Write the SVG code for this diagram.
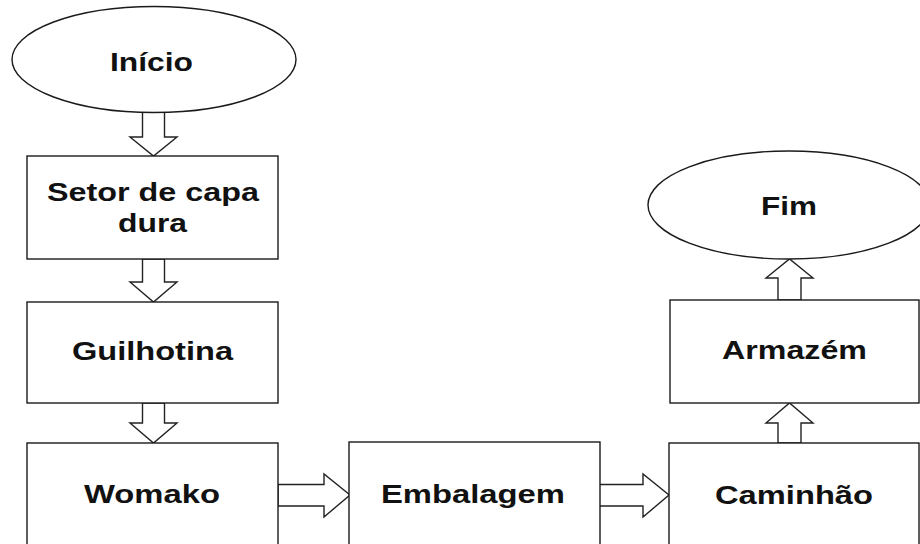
<svg xmlns="http://www.w3.org/2000/svg" width="920" height="544" viewBox="0 0 920 544">
<style>
.n{fill:#fff;stroke:#1a1a1a;stroke-width:1.4}
.a{fill:#fff;stroke:#222;stroke-width:1.4;stroke-linejoin:miter}
.t{font-family:"Liberation Sans",Arial,sans-serif;font-weight:bold;font-size:26px;fill:#111;text-anchor:middle}
</style>
<rect width="920" height="544" fill="#fff"/>
<g id="connectors">
<polygon class="a" points="142.5,110 164.5,110 164.5,137 177,137 153.5,156 130,137 142.5,137"/>
<polygon class="a" points="142.5,259 164.5,259 164.5,282 177,282 153.5,302 130,282 142.5,282"/>
<polygon class="a" points="142.5,403 164.5,403 164.5,423 177,423 153.5,443 130,423 142.5,423"/>
<polygon class="a" points="278,484.5 324,484.5 324,474 350,495 324,517 324,506 278,506"/>
<polygon class="a" points="596,484.5 643,484.5 643,474 669,495 643,517 643,506 596,506"/>
<polygon class="a" points="778,443 778,423 766,423 789.5,403 813,423 801,423 801,443"/>
<polygon class="a" points="778,300 778,278 766,278 789.5,259 813,278 801,278 801,300"/>
</g>
<g id="inicio">
<ellipse class="n" cx="154" cy="59.5" rx="142" ry="53"/>
<text class="t" x="151.5" y="71" textLength="83" lengthAdjust="spacingAndGlyphs">Início</text>
</g>
<g id="setor">
<rect class="n" x="27" y="156" width="251" height="103"/>
<text class="t" x="153" y="201" textLength="212" lengthAdjust="spacingAndGlyphs">Setor de capa</text>
<text class="t" x="152.5" y="232" textLength="69" lengthAdjust="spacingAndGlyphs">dura</text>
</g>
<g id="guilhotina">
<rect class="n" x="27" y="302" width="251" height="101"/>
<text class="t" x="152.5" y="360" textLength="161" lengthAdjust="spacingAndGlyphs">Guilhotina</text>
</g>
<g id="womako">
<rect class="n" x="27" y="443" width="251" height="104"/>
<text class="t" x="152" y="503" textLength="136" lengthAdjust="spacingAndGlyphs">Womako</text>
</g>
<g id="embalagem">
<rect class="n" x="349" y="442" width="251" height="105"/>
<text class="t" x="473" y="503" textLength="184" lengthAdjust="spacingAndGlyphs">Embalagem</text>
</g>
<g id="caminhao">
<rect class="n" x="669" y="443" width="250" height="104"/>
<text class="t" x="794" y="504" textLength="158" lengthAdjust="spacingAndGlyphs">Caminhão</text>
</g>
<g id="armazem">
<rect class="n" x="670" y="300" width="249" height="103"/>
<text class="t" x="794.5" y="359" textLength="145" lengthAdjust="spacingAndGlyphs">Armazém</text>
</g>
<g id="fim">
<ellipse class="n" cx="789" cy="205" rx="141" ry="54"/>
<text class="t" x="789" y="215" textLength="56" lengthAdjust="spacingAndGlyphs">Fim</text>
</g>
</svg>
